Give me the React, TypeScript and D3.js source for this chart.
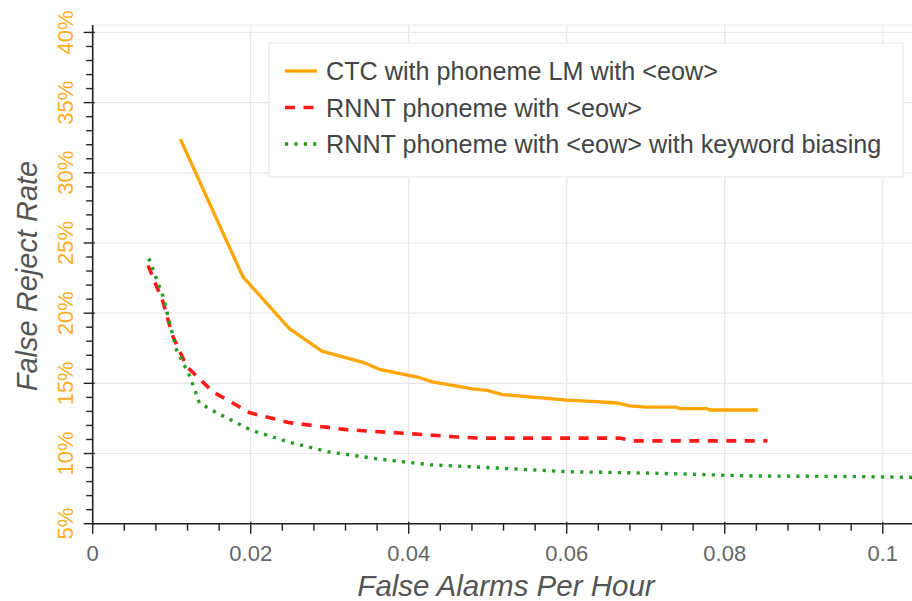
import React from "react";
import * as d3 from "d3";

const ctcX = [0.0111, 0.0190, 0.0249, 0.0290, 0.0342, 0.0363, 0.0414, 0.0430, 0.0481, 0.0499, 0.0519, 0.0582, 0.0600, 0.0638, 0.0663, 0.0680, 0.0701, 0.0739, 0.0743, 0.0777, 0.0781, 0.0842];
const ctcY = [32.4, 22.6, 18.9, 17.3, 16.5, 16.0, 15.4, 15.1, 14.6, 14.5, 14.2, 13.9, 13.8, 13.7, 13.6, 13.4, 13.3, 13.3, 13.2, 13.2, 13.1, 13.1];

const rnntX = [0.0070, 0.0089, 0.0101, 0.0119, 0.0152, 0.0199, 0.0249, 0.0321, 0.0405, 0.0456, 0.0490, 0.0557, 0.0667, 0.0684, 0.0854];
const rnntY = [23.4, 20.8, 18.4, 16.2, 14.4, 12.9, 12.2, 11.7, 11.4, 11.2, 11.1, 11.1, 11.1, 10.9, 10.9];

const kwX = [0.0071, 0.0089, 0.0106, 0.0123, 0.0135, 0.0157, 0.0199, 0.0249, 0.0300, 0.0363, 0.0427, 0.0499, 0.0604, 0.0709, 0.0835, 0.0962, 0.1040];
const kwY = [23.9, 21.2, 17.4, 15.5, 13.6, 12.9, 11.7, 10.8, 10.1, 9.6, 9.2, 9.0, 8.7, 8.6, 8.4, 8.36, 8.3];

const seriesNames = [
  "CTC with phoneme LM with <eow>",
  "RNNT phoneme with <eow>",
  "RNNT phoneme with <eow> with keyword biasing",
];
const xTicks = [0, 0.02, 0.04, 0.06, 0.08, 0.1];
const yTicks = [5, 10, 15, 20, 25, 30, 35, 40];
const xTitle = "False Alarms Per Hour";
const yTitle = "False Reject Rate";

const W = 912, H = 601;
const FONT = "'Liberation Sans', Arial, Helvetica, sans-serif";

export default function App() {
  const left = 92.7, right = 912, top = 25, bottom = 523.7;
  const x = d3.scaleLinear().domain([0, 0.1037]).range([left, right]);
  const y = d3.scaleLinear().domain([5, 40.53]).range([bottom, top]);

  const xMinor = d3.range(0, 0.1037, 0.004).filter((v) => Math.abs(v / 0.02 - Math.round(v / 0.02)) > 1e-6);
  const yMinor = d3.range(5, 40.6, 1).filter((v) => v % 5 !== 0);

  const line = d3.line<[number, number]>().x((d) => x(d[0])).y((d) => y(d[1]));
  const series = [
    { name: seriesNames[0], pts: ctcX.map((v, i) => [v, ctcY[i]] as [number, number]), color: "#ffa500", dash: "", width: 3.3 },
    { name: seriesNames[1], pts: rnntX.map((v, i) => [v, rnntY[i]] as [number, number]), color: "#ff1a1a", dash: "10,8.5", width: 3.6 },
    { name: seriesNames[2], pts: kwX.map((v, i) => [v, kwY[i]] as [number, number]), color: "#259d25", dash: "3.2,6.2", width: 3.4 },
  ];

  const fmtX = (v: number) => (v === 0 ? "0" : d3.format("~g")(v));

  return (
    <svg width={W} height={H} style={{ position: "absolute", left: 0, top: 0, background: "#fff" }}>
      <defs>
        <clipPath id="plotclip">
          <rect x={left} y={top} width={right - left} height={bottom - top} />
        </clipPath>
      </defs>
      {/* grid */}
      <line x1={left} x2={right} y1={top} y2={top} stroke="#e8e8e8" strokeWidth={1.2} />
      {yTicks.map((t) => (
        <line key={"gy" + t} x1={left} x2={right} y1={y(t)} y2={y(t)} stroke="#e6e6e6" strokeWidth={1.2} />
      ))}
      {xTicks.map((t) => (
        <line key={"gx" + t} x1={x(t)} x2={x(t)} y1={top} y2={bottom} stroke="#e6e6e6" strokeWidth={1.2} />
      ))}
      {/* series */}
      <g clipPath="url(#plotclip)">
        {series.map((s) => (
          <path key={s.name} d={line(s.pts) || ""} fill="none" stroke={s.color} strokeWidth={s.width} strokeDasharray={s.dash} strokeLinejoin="round" />
        ))}
      </g>
      {/* axes */}
      <line x1={left} x2={left} y1={top} y2={bottom + 1} stroke="#222" strokeWidth={1.6} />
      <line x1={left - 1} x2={right} y1={bottom} y2={bottom} stroke="#222" strokeWidth={1.6} />
      {yTicks.map((t) => (
        <line key={"ty" + t} x1={left - 9} x2={left + 2} y1={y(t)} y2={y(t)} stroke="#222" strokeWidth={1.4} />
      ))}
      {yMinor.map((t) => (
        <line key={"my" + t} x1={left - 6.5} x2={left} y1={y(t)} y2={y(t)} stroke="#222" strokeWidth={1.4} />
      ))}
      {xTicks.map((t) => (
        <line key={"tx" + t} x1={x(t)} x2={x(t)} y1={bottom - 2} y2={bottom + 10} stroke="#222" strokeWidth={1.4} />
      ))}
      {xMinor.map((t) => (
        <line key={"mx" + t} x1={x(t)} x2={x(t)} y1={bottom} y2={bottom + 7} stroke="#222" strokeWidth={1.4} />
      ))}
      {/* tick labels */}
      {yTicks.map((t) => (
        <text key={"ly" + t} transform={`translate(72.5,${y(t)}) rotate(-90)`} textAnchor="middle" fontFamily={FONT} fontSize={22} fill="#ffad1f">
          {t + "%"}
        </text>
      ))}
      {xTicks.map((t) => (
        <text key={"lx" + t} x={x(t)} y={561} textAnchor="middle" fontFamily={FONT} fontSize={22} fill="#666">
          {fmtX(t)}
        </text>
      ))}
      {/* titles */}
      <text x={506} y={596} textAnchor="middle" fontFamily={FONT} fontSize={29.5} fontStyle="italic" fill="#555">
        {xTitle}
      </text>
      <text transform={`translate(37,276) rotate(-90)`} textAnchor="middle" fontFamily={FONT} fontSize={29} fontStyle="italic" fill="#555">
        {yTitle}
      </text>
      {/* legend */}
      <rect x={269} y={43} width={634} height={134} fill="#fff" stroke="#e8e8e8" strokeWidth={1.2} />
      {series.map((s, i) => (
        <g key={"lg" + i} transform={`translate(0,${71 + i * 36.5})`}>
          <line x1={285} x2={317} y1={0} y2={0} stroke={s.color} strokeWidth={s.width} strokeDasharray={s.dash} />
          <text x={326} y={9} fontFamily={FONT} fontSize={25.2} fill="#444">
            {s.name}
          </text>
        </g>
      ))}
    </svg>
  );
}
